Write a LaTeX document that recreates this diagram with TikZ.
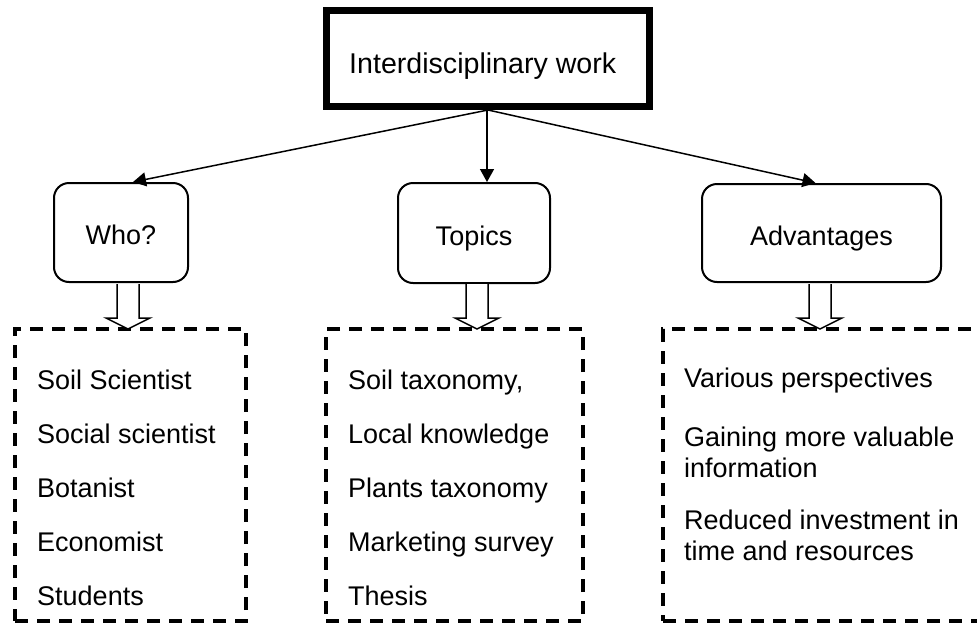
\documentclass[tikz,border=0pt]{standalone}
\usepackage{fontspec}
\setmainfont{Liberation Sans}
\usetikzlibrary{arrows.meta}
\begin{document}
\begin{tikzpicture}[x=1pt,y=-1pt,
  every node/.style={font=\fontsize{27}{31}\selectfont, inner sep=0pt},
  topbox/.style={draw, line width=7pt, minimum width=323pt, minimum height=96pt},
  catbox/.style={draw, line width=2pt, rounded corners=15pt, text height=24pt, text depth=0pt},
  listbox/.style={draw, line width=4pt, dash pattern=on 13pt off 9pt},
  item/.style={anchor=base west},
  conn/.style={line width=1.5pt, -{Triangle[length=13pt,width=14pt]}},
  hollow/.style={draw, line width=1.5pt, fill=white, line join=miter}
]
\clip (0,0) rectangle (977,624);
\useasboundingbox (0,0) rectangle (977,624);

% top box
\node[topbox] (top) at (488,58.5) {};
\node[item, font=\fontsize{28.6}{33}\selectfont] (toptext) at (349,73) {Interdisciplinary work};

% category boxes
\node[catbox, minimum width=134pt, minimum height=99pt] (who) at (121,232.5) {Who?};
\node[catbox, minimum width=152pt, minimum height=100pt] (topics) at (474,233) {Topics};
\node[catbox, minimum width=239pt, minimum height=98pt] (adv) at (821.5,233) {Advantages};

% connectors
\draw[conn] (top.south) -- ([xshift=12pt]who.north);
\draw[conn] ([xshift=-1pt]top.south) -- ([xshift=13pt]topics.north);
\draw[conn] (top.south) -- ([xshift=-6pt]adv.north);

% dashed list boxes
\node[listbox, minimum width=231pt, minimum height=292pt] (wholist) at (130.5,475) {};
\node[listbox, minimum width=257pt, minimum height=292pt] (topiclist) at (454.5,475) {};
\node[listbox, minimum width=327pt, minimum height=292pt] (advlist) at (826.5,475) {};

% hollow arrows
\draw[hollow] (117,284) -- (117,318) -- (106,318) -- (128,329) -- (150,318) -- (139,318) -- (139,284);
\draw[hollow] (466,284) -- (466,318) -- (455,318) -- (477,329) -- (499,318) -- (488,318) -- (488,284);
\draw[hollow] (809,284) -- (809,318) -- (798,318) -- (820,329) -- (842,318) -- (831,318) -- (831,284);

% who list
\node[item] (w1) at (37,389) {Soil Scientist};
\node[item] (w2) at (37,443) {Social scientist};
\node[item] (w3) at (37,497) {Botanist};
\node[item] (w4) at (37,551) {Economist};
\node[item] (w5) at (37,605) {Students};

% topics list
\node[item] (t1) at (348,389) {Soil taxonomy,};
\node[item] (t2) at (348,443) {Local knowledge};
\node[item] (t3) at (348,497) {Plants taxonomy};
\node[item] (t4) at (348,551) {Marketing survey};
\node[item] (t5) at (348,605) {Thesis};

% advantages list
\node[item] (a1) at (684,387) {Various perspectives};
\node[item] (a2) at (684,446) {Gaining more valuable};
\node[item] (a3) at (684,477) {information};
\node[item] (a4) at (684,529) {Reduced investment in};
\node[item] (a5) at (684,560) {time and resources};
\end{tikzpicture}
\end{document}
